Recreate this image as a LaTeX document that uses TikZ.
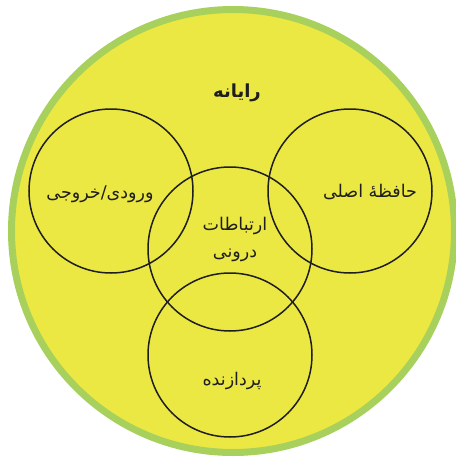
\documentclass[tikz,border=0pt]{standalone}
\usepackage{fontspec}
\usetikzlibrary{positioning}
\TeXXeTstate=1
\newfontfamily\arabicfont[Script=Arabic]{DejaVu Sans}
\definecolor{fillyellow}{HTML}{ECE843}
\definecolor{rimgreen}{HTML}{A7D05C}
\definecolor{ink}{HTML}{1E1E1E}

\begin{document}
\begin{tikzpicture}[x=1pt, y=-1pt,
    part/.style={circle, draw=ink, line width=1.5pt, minimum size=164pt, inner sep=0pt},
    tag/.style={ink, font=\arabicfont\fontsize{17.5}{27}\selectfont, align=center, inner sep=1pt}]
    \useasboundingbox (0,0) rectangle (456,459);
    % outer disc: the computer
    \node[circle, draw=rimgreen, line width=7pt, fill=fillyellow, minimum size=443pt, inner sep=0pt] (computer) at (233,231) {};
    \node[tag, font=\arabicfont\bfseries\fontsize{18}{22}\selectfont] (computertag) at (237,93) {\beginR رایانه\endR};
    % the four parts
    \node[part] (io) at (111,191) {};
    \node[part] (memory) at (350,191) {};
    \node[part] (bus) at (230,249) {};
    \node[part] (cpu) at (230,355) {};
    % their names
    \node[tag] (iotag) at (100,194) {\beginR ورودی/خروجی\endR};
    \node[tag] (memorytag) at (370,192) {\beginR حافظهٔ اصلی\endR};
    \node[tag] (bustag) at (235,239) {\beginR ارتباطات\endR\\ \beginR درونی\endR};
    \node[tag] (cputag) at (232,381) {\beginR پردازنده\endR};
\end{tikzpicture}
\end{document}
